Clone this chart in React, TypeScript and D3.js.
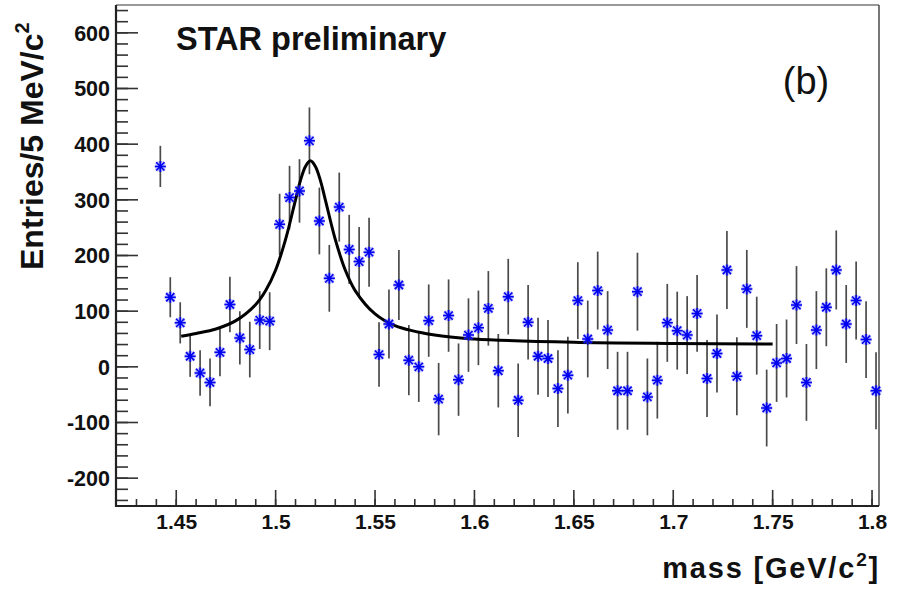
import React from "react";
import * as d3 from "d3";

const massBins = [
  1.442, 1.447, 1.452, 1.457, 1.462, 1.467, 1.472, 1.477, 1.482, 1.487,
  1.492, 1.497, 1.502, 1.507, 1.512, 1.517, 1.522, 1.527, 1.532, 1.537,
  1.542, 1.547, 1.552, 1.557, 1.562, 1.567, 1.572, 1.577, 1.582, 1.587,
  1.592, 1.597, 1.602, 1.607, 1.612, 1.617, 1.622, 1.627, 1.632, 1.637,
  1.642, 1.647, 1.652, 1.657, 1.662, 1.667, 1.672, 1.677, 1.682, 1.687,
  1.692, 1.697, 1.702, 1.707, 1.712, 1.717, 1.722, 1.727, 1.732, 1.737,
  1.742, 1.747, 1.752, 1.757, 1.762, 1.767, 1.772, 1.777, 1.782, 1.787,
  1.792, 1.797, 1.802,
];

const entries = [
  360, 125, 79, 19, -11, -28, 26, 112, 52, 31,
  84, 82, 256, 304, 316, 406, 262, 159, 287, 211,
  189, 206, 22, 77, 147, 12, 0, 83, -58, 92,
  -23, 57, 70, 105, -7, 126, -60, 80, 19, 15,
  -39, -15, 119, 50, 137, 66, -43, -43, 135, -54,
  -24, 79, 65, 57, 96, -21, 24, 174, -17, 140,
  56, -74, 7, 15, 111, -28, 66, 107, 174, 77,
  119, 49, -43,
];

const errors = [
  37, 36, 37, 37, 41, 43, 43, 50, 48, 50,
  52, 52, 55, 57, 57, 60, 60, 60, 62, 62,
  62, 62, 58, 62, 63, 63, 63, 65, 65, 65,
  65, 66, 67, 67, 66, 68, 66, 67, 69, 69,
  69, 69, 69, 69, 70, 70, 70, 70, 70, 69,
  69, 70, 70, 70, 69, 69, 70, 70, 70, 70,
  70, 69, 70, 70, 70, 69, 70, 70, 71, 70,
  70, 69, 69,
];

const fitMass = [
  1.4525, 1.46, 1.47, 1.48, 1.49, 1.495, 1.5, 1.505, 1.51, 1.5125, 1.515,
  1.5175, 1.52, 1.5225, 1.525, 1.53, 1.535, 1.54, 1.55, 1.56, 1.58, 1.6,
  1.65, 1.7, 1.75,
];
const fitEntries = [
  55, 60, 68, 83, 112, 137, 174, 229, 300, 335, 360,
  370, 360, 335, 300, 229, 174, 137, 95, 74, 57, 50,
  44, 42, 41,
];

const xTicks = [1.45, 1.5, 1.55, 1.6, 1.65, 1.7, 1.75, 1.8];
const xTickLabels = ["1.45", "1.5", "1.55", "1.6", "1.65", "1.7", "1.75", "1.8"];
const yTicks = [-200, -100, 0, 100, 200, 300, 400, 500, 600];
const yTickLabels = ["-200", "-100", "0", "100", "200", "300", "400", "500", "600"];

const FONT = "'Liberation Sans', Arial, Helvetica, sans-serif";

export default function App() {
  const W = 903;
  const H = 591;
  const left = 116, right = 879, top = 5, bottom = 506;
  const x = d3.scaleLinear().domain([1.4197, 1.8035]).range([left, right]);
  const y = d3.scaleLinear().domain([-250, 650]).range([bottom, top]);

  const xMinor = d3.range(143, 181).map((v) => v / 100);
  const yMinor = d3.range(-240, 641, 20);

  const line = d3
    .line<number>()
    .x((_, i) => x(fitMass[i]))
    .y((d) => y(d))
    .curve(d3.curveCatmullRom.alpha(0.5));

  const ms = 5.5;

  return (
    <svg
      width={W}
      height={H}
      viewBox={`0 0 ${W} ${H}`}
      style={{ position: "absolute", left: 0, top: 0, background: "#fff" }}
      fontFamily={FONT}
    >
      <rect x={0} y={0} width={W} height={H} fill="#fff" />
      {/* frame top/right */}
      <line x1={left} y1={top} x2={right} y2={top} stroke="#777" strokeWidth={1.6} />
      <line x1={right} y1={top} x2={right} y2={bottom} stroke="#555" strokeWidth={1.6} />

      {/* y ticks */}
      {yMinor.map((v) => (
        <line key={"ym" + v} x1={left} x2={left + 12} y1={y(v)} y2={y(v)} stroke="#333" strokeWidth={1.6} />
      ))}
      {yTicks.map((v) => (
        <line key={"yM" + v} x1={left} x2={left + 22} y1={y(v)} y2={y(v)} stroke="#333" strokeWidth={1.6} />
      ))}
      {yTicks.map((v, i) => (
        <text key={"yl" + v} x={110} y={y(v) + 7.8} textAnchor="end" fontSize={21.5} fontWeight="bold" fill="#111">
          {yTickLabels[i]}
        </text>
      ))}

      {/* x ticks */}
      {xMinor.map((v) => (
        <line key={"xm" + v} x1={x(v)} x2={x(v)} y1={bottom} y2={bottom - 7} stroke="#333" strokeWidth={1.6} />
      ))}
      {xTicks.map((v) => (
        <line key={"xM" + v} x1={x(v)} x2={x(v)} y1={bottom} y2={bottom - 16} stroke="#333" strokeWidth={1.6} />
      ))}
      {xTicks.map((v, i) => (
        <text key={"xl" + v} x={x(v) + 0.5} y={528.5} textAnchor="middle" fontSize={21} fontWeight="bold" fill="#111">
          {xTickLabels[i]}
        </text>
      ))}

      {/* axes */}
      <line x1={left} y1={top} x2={left} y2={bottom + 1} stroke="#222" strokeWidth={2.2} />
      <line x1={left - 1} y1={bottom} x2={right} y2={bottom} stroke="#222" strokeWidth={2.2} />

      {/* error bars */}
      {massBins.map((m, i) => (
        <line
          key={"e" + i}
          x1={x(m)}
          x2={x(m)}
          y1={y(entries[i] + errors[i])}
          y2={y(entries[i] - errors[i])}
          stroke="#4a4a4a"
          strokeWidth={1.7}
        />
      ))}

      {/* fit */}
      <path d={line(fitEntries) || ""} fill="none" stroke="#000" strokeWidth={3} />

      {/* markers */}
      {massBins.map((m, i) => {
        const cx = x(m);
        const cy = y(entries[i]);
        const k = ms * 0.75;
        const d = `M${cx - ms},${cy}L${cx + ms},${cy}M${cx},${cy - ms}L${cx},${cy + ms}M${cx - k},${cy - k}L${cx + k},${cy + k}M${cx - k},${cy + k}L${cx + k},${cy - k}`;
        return (
          <g key={"m" + i}>
            <path d={d} stroke="rgba(90,90,255,0.45)" strokeWidth={3.4} fill="none" />
            <path d={d} stroke="#0000f0" strokeWidth={1.5} fill="none" />
          </g>
        );
      })}

      {/* texts */}
      <text x={176} y={50} fontSize={32.5} fontWeight="bold" fill="#111">
        STAR preliminary
      </text>
      <text x={806} y={94} fontSize={38} textAnchor="middle" fill="#111">
        (b)
      </text>
      <text x={880} y={578} fontSize={29} fontWeight="bold" textAnchor="end" fill="#111" letterSpacing={1.8}>
        mass [GeV/c<tspan fontSize={19} dy={-12}>2</tspan>
        <tspan fontSize={29} dy={12}>]</tspan>
      </text>
      <g transform="translate(43,270) rotate(-90)">
        <text x={0} y={0} fontSize={32} fontWeight="bold" fill="#111">
          Entries/5 MeV/c<tspan fontSize={20} dy={-14}>2</tspan>
        </text>
      </g>
    </svg>
  );
}
